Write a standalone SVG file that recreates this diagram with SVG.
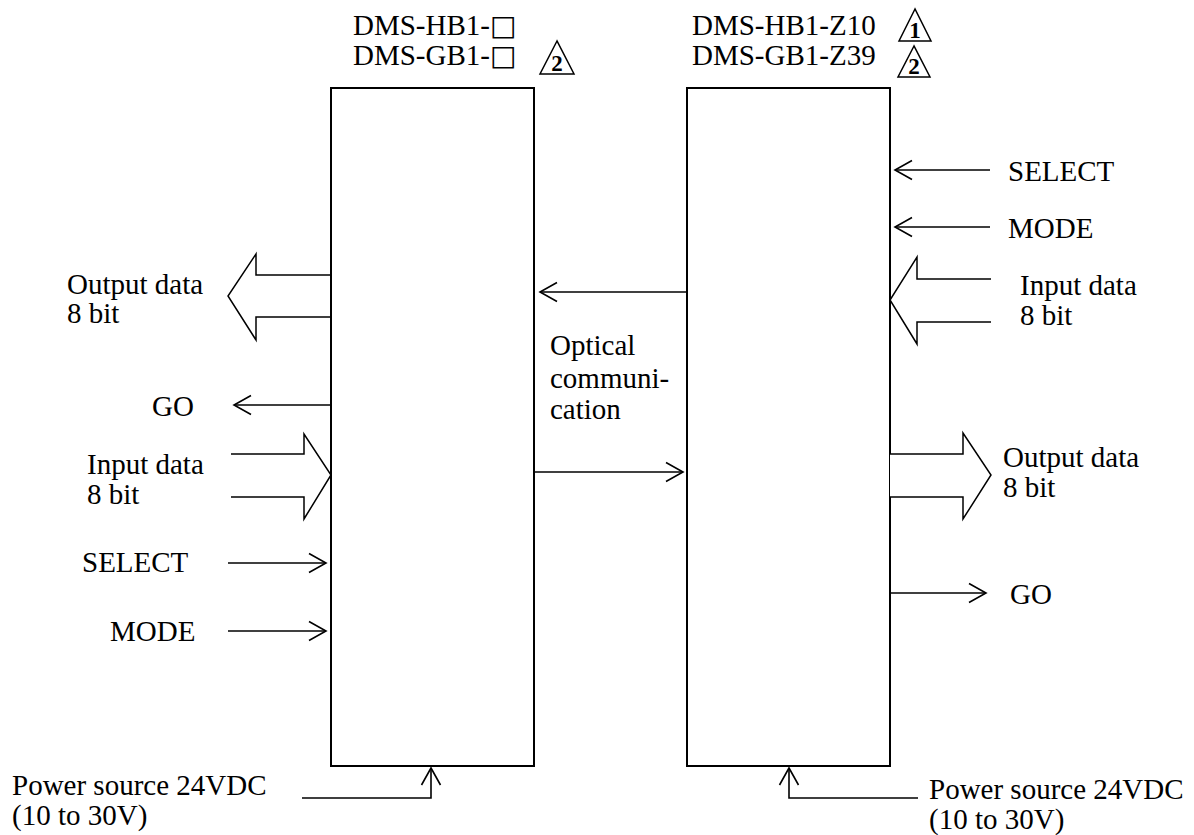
<svg xmlns="http://www.w3.org/2000/svg" width="1194" height="835" viewBox="0 0 1194 835">
<style>
text{font-family:"Liberation Serif","Times New Roman",serif;font-size:29px;fill:#000}
.sq{font-family:"DejaVu Sans",sans-serif;font-size:28px}
.box{fill:none;stroke:#000;stroke-width:2}
.ln{fill:none;stroke:#000;stroke-width:1.6}
.fat{fill:#fff;stroke:#000;stroke-width:1.5;stroke-linejoin:miter}
.tri{fill:#fff;stroke:#000;stroke-width:1.5}
.num{font-weight:bold;font-size:23px;text-anchor:middle}
</style>
<defs>
<marker id="ah" markerWidth="20" markerHeight="22" refX="18" refY="11" orient="auto" markerUnits="userSpaceOnUse">
<path d="M1,1.5 L18,11 L1,20.5" fill="none" stroke="#000" stroke-width="1.6"/>
</marker>
</defs>
<g id="left-unit">
<rect class="box" x="331" y="88" width="203" height="678"/>
<text x="353" y="35">DMS-HB1-<tspan class="sq">□</tspan></text>
<text x="353" y="65">DMS-GB1-<tspan class="sq">□</tspan></text>
<polygon class="tri" points="557,41 540,74 574,74"/>
<text class="num" x="557" y="71">2</text>
</g>
<g id="right-unit">
<rect class="box" x="687" y="88" width="203" height="678"/>
<text x="692" y="35">DMS-HB1-Z10</text>
<text x="692" y="65">DMS-GB1-Z39</text>
<polygon class="tri" points="915,9 899,41 931,41"/>
<text class="num" x="915" y="38">1</text>
<polygon class="tri" points="914,46 898,77 930,77"/>
<text class="num" x="914" y="74">2</text>
</g>
<g id="connectors">
<polyline class="fat" points="330,275 256,275 256,254 228,296 256,340 256,317 330,317"/>
<line class="ln" x1="330" y1="405" x2="234" y2="405" marker-end="url(#ah)"/>
<polyline class="fat" points="231,454 304,454 304,434 331,475 304,519 304,497 231,497"/>
<line class="ln" x1="228" y1="563" x2="326" y2="563" marker-end="url(#ah)"/>
<line class="ln" x1="228" y1="631" x2="326" y2="631" marker-end="url(#ah)"/>
<polyline class="ln" points="302,798 431,798 431,768" marker-end="url(#ah)"/>
<line class="ln" x1="687" y1="292" x2="540" y2="292" marker-end="url(#ah)"/>
<line class="ln" x1="534" y1="472" x2="683" y2="472" marker-end="url(#ah)"/>
<line class="ln" x1="990" y1="170" x2="895" y2="170" marker-end="url(#ah)"/>
<line class="ln" x1="990" y1="227" x2="895" y2="227" marker-end="url(#ah)"/>
<polyline class="fat" points="991,279 917,279 917,257 890,300 917,344 917,322 991,322"/>
<polyline class="fat" points="890,454 963,454 963,433 991,475 963,519 963,497 890,497"/>
<line class="ln" x1="890" y1="593" x2="986" y2="593" marker-end="url(#ah)"/>
<polyline class="ln" points="918,798 789,798 789,768" marker-end="url(#ah)"/>
</g>
<g id="labels">
<text x="67" y="294">Output data</text>
<text x="67" y="323">8 bit</text>
<text x="152" y="416">GO</text>
<text x="87" y="474">Input data</text>
<text x="87" y="504">8 bit</text>
<text x="82" y="572">SELECT</text>
<text x="110" y="641">MODE</text>
<text x="12" y="795">Power source 24VDC</text>
<text x="12" y="825">(10 to 30V)</text>
<text x="550" y="355">Optical</text>
<text x="550" y="388">communi-</text>
<text x="550" y="419">cation</text>
<text x="1008" y="181">SELECT</text>
<text x="1008" y="238">MODE</text>
<text x="1020" y="295">Input data</text>
<text x="1020" y="325">8 bit</text>
<text x="1003" y="467">Output data</text>
<text x="1003" y="497">8 bit</text>
<text x="1010" y="604">GO</text>
<text x="929" y="799">Power source 24VDC</text>
<text x="929" y="829">(10 to 30V)</text>
</g>
</svg>
